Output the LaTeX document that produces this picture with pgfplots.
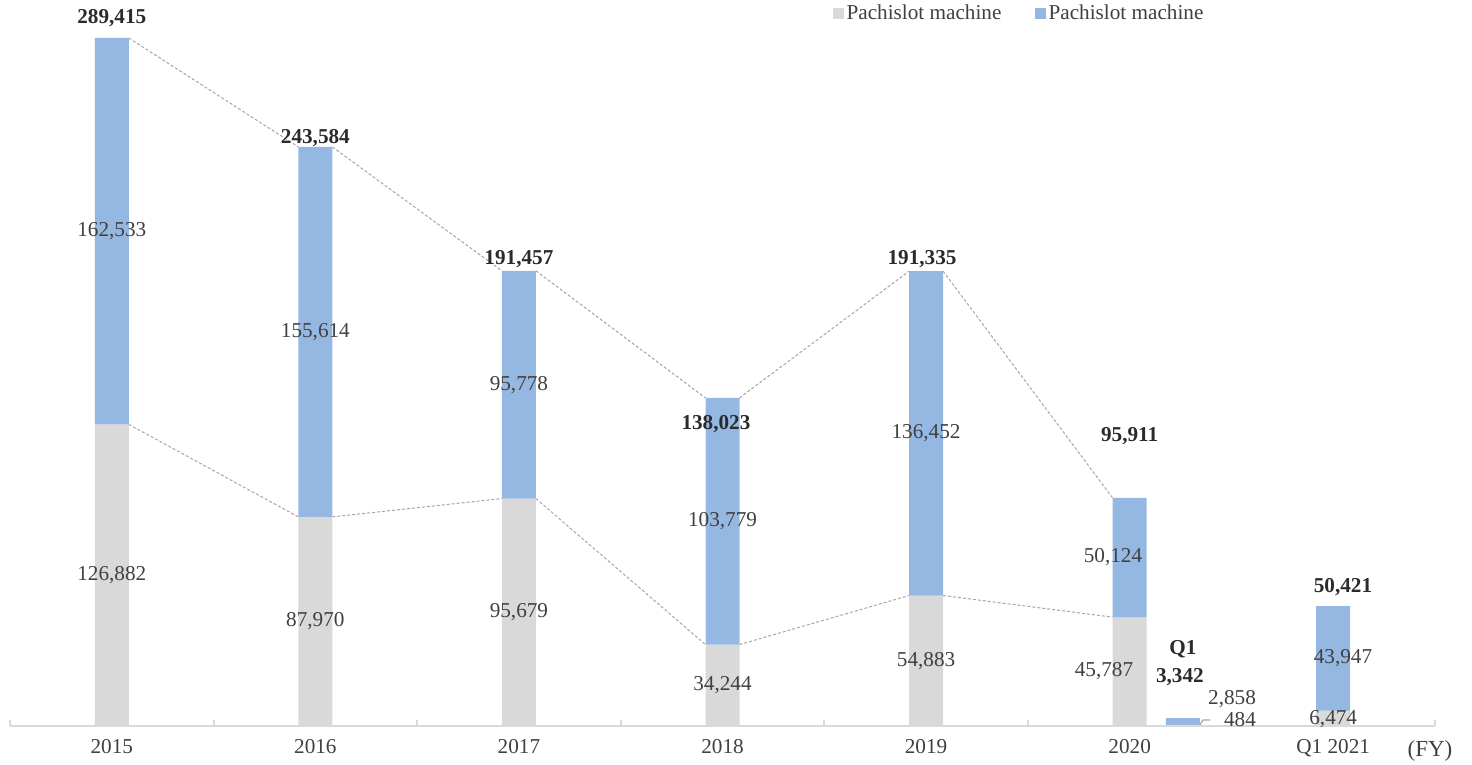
\documentclass[border=0pt]{standalone}
\usepackage{pgfplots}
\pgfplotsset{compat=1.18}
\usepackage{fontspec}
\setmainfont{Liberation Serif}
\definecolor{cgray}{HTML}{D9D9D9}
\definecolor{cblue}{HTML}{95B8E3}
\definecolor{ctxt}{HTML}{404040}
\definecolor{cbold}{HTML}{2B2B2B}
\definecolor{cline}{HTML}{A6A6A6}
\definecolor{cax}{HTML}{D9D9D9}
\pgfplotsset{connector/.style={forget plot, sharp plot, no markers, cline, dash pattern=on 1.5pt off 1pt, line width=0.5pt}}
\begin{document}
\begin{tikzpicture}[font=\fontsize{10.6}{13}\selectfont]
\useasboundingbox (-5pt,-19.5pt) rectangle (731pt,363pt);
\begin{axis}[
  scale only axis, width=712.5pt, height=363pt,
  xmin=-0.5, xmax=6.5, ymin=0, ymax=305400,
  axis x line*=bottom, axis y line=none,
  x axis line style={cax, line width=1pt},
  xtick={0,1,2,3,4,5,6},
  xticklabels={2015,2016,2017,2018,2019,2020,Q1 2021},
  major x tick style={draw=none},
  minor xtick={-0.5,0.5,1.5,2.5,3.5,4.5,5.5,6.5},
  minor x tick style={cax, line width=1pt},
  minor tick length=3pt,
  xticklabel style={text=ctxt, yshift=-3pt},
  clip=false,
  legend style={draw=none, fill=none, at={(rel axis cs:0.7085,0.981)}, anchor=center,
    legend columns=2, text=ctxt, font=\fontsize{10.6}{13}\selectfont,
    nodes={inner xsep=1.6pt},
    /tikz/every even column/.append style={column sep=15pt}},
]
\addlegendimage{legend image code/.code={\fill[cgray] (0pt,-2.5pt) rectangle (5pt,2.5pt);}}
\addlegendentry{Pachislot machine}
\addlegendimage{legend image code/.code={\fill[cblue] (0pt,-2.5pt) rectangle (5pt,2.5pt);}}
\addlegendentry{Pachislot machine}

% connectors: totals
\addplot[connector] coordinates {(0.0835,289415) (0.9165,243584)};
\addplot[connector] coordinates {(1.0835,243584) (1.9165,191457)};
\addplot[connector] coordinates {(2.0835,191457) (2.9165,138023)};
\addplot[connector] coordinates {(3.0835,138023) (3.9165,191335)};
\addplot[connector] coordinates {(4.0835,191335) (4.9165,95911)};
% connectors: gray tops
\addplot[connector] coordinates {(0.0835,126882) (0.9165,87970)};
\addplot[connector] coordinates {(1.0835,87970) (1.9165,95679)};
\addplot[connector] coordinates {(2.0835,95679) (2.9165,34244)};
\addplot[connector] coordinates {(3.0835,34244) (3.9165,54883)};
\addplot[connector] coordinates {(4.0835,54883) (4.9165,45787)};

% gray (bottom) segment
\addplot[ybar stacked, bar width=17pt, forget plot, fill=cgray, draw=none] coordinates {
 (0,126882) (1,87970) (2,95679) (3,34244) (4,54883) (5,45787) (5.262,484) (6,6474)};
% blue (top) segment
\addplot[ybar stacked, bar width=17pt, forget plot, fill=cblue, draw=none] coordinates {
 (0,162533) (1,155614) (2,95778) (3,103779) (4,136452) (5,50124) (5.262,2858) (6,43947)};

\draw[cline, line width=0.6pt] (axis cs:5.346,484) -- (axis cs:5.360,2524) -- (axis cs:5.395,2524);

\begin{scope}[every node/.style={text=cbold, font=\fontsize{10.6}{13}\selectfont\bfseries, anchor=center, inner sep=0pt}]
\node at (axis cs:0,297800) {289,415};
\node at (axis cs:1,247350) {243,584};
\node at (axis cs:2,196450) {191,457};
\node at (axis cs:2.968,127040) {138,023};
\node at (axis cs:3.98,196450) {191,335};
\node at (axis cs:5,121990) {95,911};
\node at (axis cs:5.262,32200) {Q1};
\node at (axis cs:5.247,20500) {3,342};
\node at (axis cs:6.048,58470) {50,421};
\end{scope}
\begin{scope}[every node/.style={text=ctxt, font=\fontsize{10.6}{13}\selectfont, anchor=center, inner sep=0pt}]
\node at (axis cs:0,63441) {126,882};
\node at (axis cs:0,208148) {162,533};
\node at (axis cs:1,43985) {87,970};
\node at (axis cs:1,165777) {155,614};
\node at (axis cs:2,47840) {95,679};
\node at (axis cs:2,143568) {95,778};
\node at (axis cs:3,17122) {34,244};
\node at (axis cs:3,86134) {103,779};
\node at (axis cs:4,27442) {54,883};
\node at (axis cs:4,123109) {136,452};
\node at (axis cs:4.874,22894) {45,787};
\node at (axis cs:4.918,70849) {50,124};
\node at (axis cs:6,3000) {6,474};
\node at (axis cs:6.048,28448) {43,947};
\node at (axis cs:5.503,11358) {2,858};
\node at (axis cs:5.542,2524) {484};
\node[text=ctxt, font=\fontsize{11.5}{13}\selectfont] at ([xshift=-2.5pt,yshift=-12.5pt]rel axis cs:1,0) {(FY)};
\end{scope}
\end{axis}
\end{tikzpicture}
\end{document}
